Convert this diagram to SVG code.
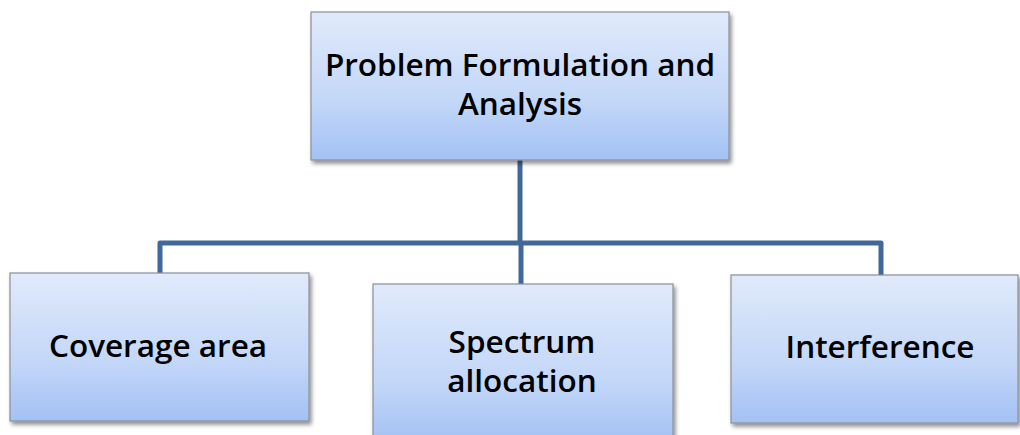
<svg xmlns="http://www.w3.org/2000/svg" width="1020" height="435" viewBox="0 0 1020 435">
<defs>
<linearGradient id="g" x1="0" y1="0" x2="0" y2="1">
<stop offset="0" stop-color="#e0eafb"/>
<stop offset="0.6" stop-color="#c3d7f8"/>
<stop offset="1" stop-color="#a3c1f4"/>
</linearGradient>
<filter id="sh" x="-5%" y="-5%" width="112%" height="120%">
<feGaussianBlur in="SourceAlpha" stdDeviation="2"/>
<feOffset dx="2" dy="3"/>
<feComponentTransfer><feFuncA type="linear" slope="0.45"/></feComponentTransfer>
<feMerge><feMergeNode/><feMergeNode in="SourceGraphic"/></feMerge>
</filter>
</defs>
<style>
.box{fill:url(#g);stroke:#8a8f98;stroke-width:1.2;filter:url(#sh)}
.t{font-family:"Open Sans","Liberation Sans",sans-serif;font-weight:600;font-size:31.5px;fill:#000;text-anchor:middle}
.c{fill:none;stroke:#41689a;stroke-width:5;stroke-linejoin:round}
</style>
<rect width="1020" height="435" fill="#fff"/>
<g id="connectors">
<path class="c" d="M520 160 V243"/>
<path class="c" d="M160 273 V243 H881 V275"/>
<path class="c" d="M521 243 V284"/>
</g>
<g id="root">
<rect class="box" x="311" y="12" width="418" height="148"/>
<text class="t" x="520" y="76">Problem Formulation and</text>
<text class="t" x="520" y="115">Analysis</text>
</g>
<g id="coverage">
<rect class="box" x="10" y="273" width="299" height="148"/>
<text class="t" x="158" y="357">Coverage area</text>
</g>
<g id="spectrum">
<rect class="box" x="373" y="284" width="300" height="160"/>
<text class="t" x="522" y="353">Spectrum</text>
<text class="t" x="522" y="392">allocation</text>
</g>
<g id="interference">
<rect class="box" x="731" y="275" width="287" height="148"/>
<text class="t" x="880" y="358">Interference</text>
</g>
</svg>
